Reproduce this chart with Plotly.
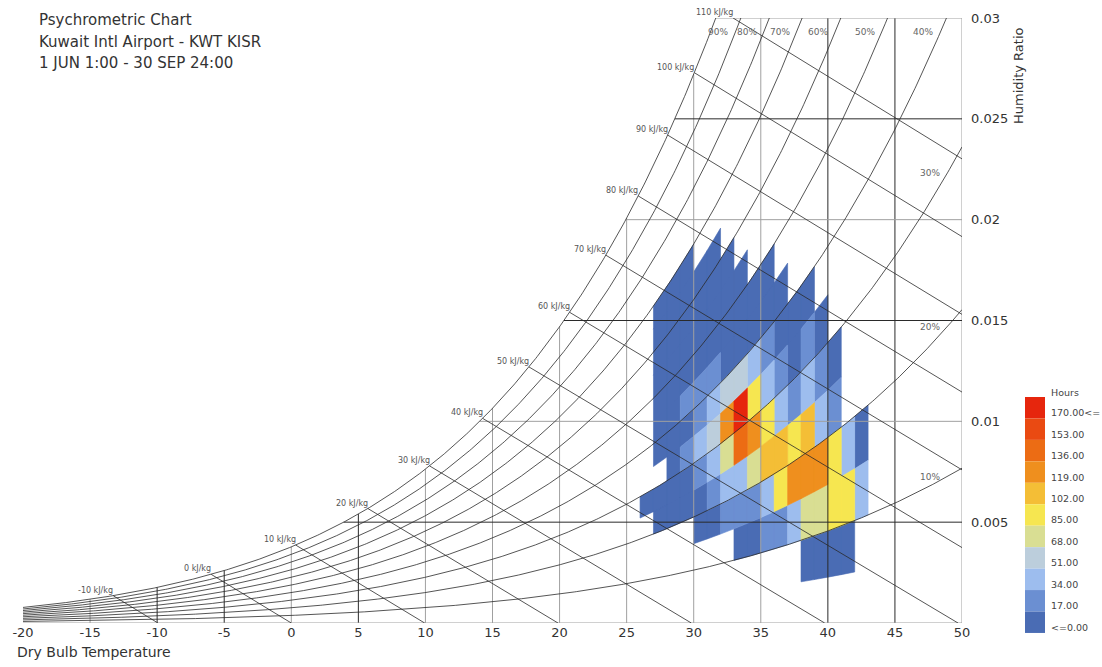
import numpy as np
import plotly.graph_objects as go

# ---------------- data ----------------
# dry bulb bins (deg C, lower edge, 1 deg wide)
temps = list(range(26, 43))
# relative humidity bins (%, lower edge, 5 % wide), listed from top to bottom
rh_bins = [65, 60, 55, 50, 45, 40, 35, 30, 25, 20, 15, 10, 5]
# hours in each (rh bin, temperature bin); None = no hours
hours = [
    # 26    27    28    29    30    31    32    33    34    35    36    37    38    39    40    41    42
    [None, 9,    9,    9,    None, None, None, None, None, None, None, None, None, None, None, None, None],  # 65-70
    [None, 9,    9,    9,    9,    9,    None, None, None, None, None, None, None, None, None, None, None],  # 60-65
    [None, 9,    9,    9,    9,    9,    9,    None, None, None, None, None, None, None, None, None, None],  # 55-60
    [None, 9,    9,    9,    9,    9,    9,    9,    None, None, None, None, None, None, None, None, None],  # 50-55
    [None, 9,    9,    9,    9,    9,    9,    9,    9,    9,    None, None, None, None, None, None, None],  # 45-50
    [None, 9,    9,    26,   26,   26,   9,    9,    9,    9,    9,    None, None, None, None, None, None],  # 40-45
    [None, 9,    9,    9,    26,   43,   60,   60,   43,   26,   9,    9,    9,    None, None, None, None],  # 35-40
    [None, None, 9,    26,   43,   60,   128,  179,  94,   43,   26,   9,    26,   9,    None, None, None],  # 30-35
    [9,    9,    9,    9,    26,   43,   77,   145,  128,  94,   43,   26,   43,   26,   9,    None, None],  # 25-30
    [None, 9,    9,    9,    9,    26,   43,   43,   77,   111,  111,  94,   111,  43,   26,   None, None],  # 20-25
    [None, None, None, None, 9,    9,    26,   26,   26,   43,   94,   128,  128,  128,  94,   43,   9],    # 15-20
    [None, None, None, None, None, None, None, 9,    9,    26,   26,   43,   77,   77,   94,   94,   43],   # 10-15
    [None, None, None, None, None, None, None, None, None, None, None, None, 9,    9,    9,    9,    None], # 5-10
]

legend_labels = ["170.00<=", "153.00", "136.00", "119.00", "102.00", "85.00",
                 "68.00", "51.00", "34.00", "17.00", "<=0.00"]
legend_colors = ["#E6260D", "#EA4A12", "#EC6C14", "#EF8F1E", "#F4BE36", "#F6E650",
                 "#D9DE93", "#BCCEDC", "#9DBDEE", "#6B8FD2", "#4A6CB4"]
hour_step = 17.0

enthalpies = list(range(-10, 111, 10))
rh_curves = [10, 20, 30, 40, 50, 60, 70, 80, 90, 100]
temp_ticks = list(range(-20, 51, 5))
w_ticks = [0.005, 0.01, 0.015, 0.02, 0.025, 0.03]
w_tick_text = ["0.005", "0.01", "0.015", "0.02", "0.025", "0.03"]

# ---------------- psychrometrics ----------------
P_ATM = 101.325
T_MIN, T_MAX, W_MAX = -20.0, 50.0, 0.03


def p_ws(t):
    t = np.asarray(t, dtype=float)
    return 0.61121 * np.exp((18.678 - t / 234.5) * (t / (257.14 + t)))


def hum_ratio(t, rh):
    p = rh / 100.0 * p_ws(t)
    return 0.622 * p / (P_ATM - p)


def enthalpy(t, w):
    return 1.006 * t + w * (2501.0 + 1.86 * t)


def solve(f, lo, hi, target):
    for _ in range(80):
        mid = 0.5 * (lo + hi)
        if f(mid) < target:
            lo = mid
        else:
            hi = mid
    return 0.5 * (lo + hi)


def t_sat_for_w(w):
    return solve(lambda t: hum_ratio(t, 100), -40, 80, w)


# ---------------- figure geometry ----------------
W, H = 1102, 667
ML, MR, MT, MB = 23, 140, 18, 44
PW, PH = W - ML - MR, H - MT - MB


def px(x):
    return (x - ML) / PW


def py(y):
    return (H - MB - y) / PH


FONT = "DejaVu Sans, Verdana, sans-serif"
fig = go.Figure()

# ---------------- binned hours ----------------
def color_index(h):
    k = int(h // hour_step)
    return len(legend_colors) - 1 - min(k, len(legend_colors) - 1)


polys = {}
for j, rh_lo in enumerate(rh_bins):
    for i, t0 in enumerate(temps):
        h = hours[j][i]
        if h is None:
            continue
        t_seg = np.linspace(t0, t0 + 1, 8)
        xs = list(t_seg) + list(t_seg[::-1])
        ys = list(hum_ratio(t_seg, rh_lo)) + list(hum_ratio(t_seg[::-1], rh_lo + 5))
        xs.append(xs[0])
        ys.append(ys[0])
        ci = color_index(h)
        bx, by = polys.setdefault(ci, ([], []))
        bx.extend(xs + [None])
        by.extend(ys + [None])

for ci, (bx, by) in sorted(polys.items(), reverse=True):
    fig.add_trace(go.Scatter(x=bx, y=by, mode="lines", fill="toself",
                             fillcolor=legend_colors[ci],
                             line=dict(width=0.6, color=legend_colors[ci]),
                             hoverinfo="skip", showlegend=False))

# ---------------- chart lines ----------------
DARK, GREY = "#2a2a2a", "#a0a0a0"


def add_line(xs, ys, color=DARK, width=0.8):
    fig.add_trace(go.Scatter(x=xs, y=ys, mode="lines", line=dict(color=color, width=width),
                             hoverinfo="skip", showlegend=False))


dark_temps = {-10, -5, 5, 40, 45}
dark_ws = {0.005, 0.015, 0.025}

# dry bulb lines
for t in range(-15, 50, 5):
    top = min(float(hum_ratio(t, 100)), W_MAX)
    add_line([t, t], [0, top], DARK if t in dark_temps else GREY, 1.0)
add_line([T_MAX, T_MAX], [0, W_MAX], GREY, 1.0)

# humidity ratio lines
for w in w_ticks:
    add_line([t_sat_for_w(w), T_MAX], [w, w], DARK if w in dark_ws else GREY, 1.0)
add_line([T_MIN, T_MAX], [0, 0], GREY, 1.0)

# relative humidity curves
t_dense = np.linspace(T_MIN, T_MAX, 600)
for rh in rh_curves:
    wv = hum_ratio(t_dense, rh)
    keep = wv <= W_MAX
    tt = list(t_dense[keep])
    ww = list(wv[keep])
    if not keep[-1]:
        t_end = solve(lambda t: hum_ratio(t, rh), T_MIN, T_MAX, W_MAX)
        tt.append(t_end)
        ww.append(W_MAX)
    add_line(tt, ww, DARK, 0.8)

# enthalpy lines
annotations = []
for hv in enthalpies:
    t_start = solve(lambda t: enthalpy(t, hum_ratio(t, 100)), -40, 80, hv)
    w_start = float(hum_ratio(t_start, 100))
    if w_start > W_MAX:
        w_start = W_MAX
        t_start = (hv - 2501.0 * W_MAX) / (1.006 + 1.86 * W_MAX)
    t_end = hv / 1.006
    w_end = 0.0
    if t_end > T_MAX:
        t_end = T_MAX
        w_end = (hv - 1.006 * T_MAX) / (2501.0 + 1.86 * T_MAX)
    add_line([t_start, t_end], [w_start, w_end], DARK, 0.8)
    annotations.append(dict(x=t_start, y=w_start, xref="x", yref="y",
                            text=f"{hv} kJ/kg", showarrow=False,
                            xanchor="right", yanchor="bottom", xshift=2, yshift=-1,
                            font=dict(family=FONT, size=8, color="#555")))

# relative humidity labels
for rh in [10, 20, 30, 40, 50, 60, 70, 80, 90]:
    if rh >= 40:
        wl = 0.0293
        tl = solve(lambda t: hum_ratio(t, rh), T_MIN, 70, wl)
    else:
        tl = 48.9
        wl = float(hum_ratio(tl, rh))
    annotations.append(dict(x=tl, y=wl, xref="x", yref="y", text=f"{rh}%",
                            showarrow=False, xanchor="right", yanchor="middle", xshift=-5,
                            font=dict(family=FONT, size=9, color="#666")))

# ---------------- titles ----------------
for text, yc in [("Psychrometric Chart", 20), ("Kuwait Intl Airport - KWT KISR", 42),
                 ("1 JUN 1:00 - 30 SEP 24:00", 63)]:
    annotations.append(dict(x=px(37), y=py(yc), xref="paper", yref="paper", text=text,
                            showarrow=False, xanchor="left", yanchor="middle",
                            font=dict(family=FONT, size=15, color="#333")))
annotations.append(dict(x=px(15), y=py(652), xref="paper", yref="paper",
                        text="Dry Bulb Temperature", showarrow=False,
                        xanchor="left", yanchor="middle",
                        font=dict(family=FONT, size=14, color="#333")))
annotations.append(dict(x=px(1018), y=py(76), xref="paper", yref="paper",
                        text="Humidity Ratio", showarrow=False, textangle=-90,
                        xanchor="center", yanchor="middle",
                        font=dict(family=FONT, size=13, color="#333")))

# ---------------- legend ----------------
shapes = []
blk_top, blk_h = 397.0, 21.45
annotations.append(dict(x=px(1049), y=py(392), xref="paper", yref="paper", text="Hours",
                        showarrow=False, xanchor="left", yanchor="middle",
                        font=dict(family=FONT, size=9.5, color="#444")))
for k, (lab, col) in enumerate(zip(legend_labels, legend_colors)):
    y0 = blk_top + k * blk_h
    shapes.append(dict(type="rect", xref="paper", yref="paper",
                       x0=px(1025), x1=px(1045), y0=py(y0 + blk_h), y1=py(y0),
                       fillcolor=col, line=dict(width=0)))
    annotations.append(dict(x=px(1049), y=py(y0 + blk_h / 2 + 5), xref="paper", yref="paper",
                            text=lab, showarrow=False, xanchor="left", yanchor="middle",
                            font=dict(family=FONT, size=9.5, color="#444")))

fig.update_layout(
    width=W, height=H, margin=dict(l=ML, r=MR, t=MT, b=MB),
    paper_bgcolor="white", plot_bgcolor="white",
    showlegend=False, annotations=annotations, shapes=shapes,
    xaxis=dict(range=[T_MIN, T_MAX], tickvals=temp_ticks,
               ticktext=[str(t) for t in temp_ticks], showgrid=False, zeroline=False,
               showline=False, ticks="", tickfont=dict(family=FONT, size=13, color="#333")),
    yaxis=dict(range=[0, W_MAX], side="right", tickvals=w_ticks, ticktext=w_tick_text,
               showgrid=False, zeroline=False, showline=False, ticks="",
               ticklabelstandoff=8, tickfont=dict(family=FONT, size=13, color="#333")),
)

fig.write_html("out.html")
